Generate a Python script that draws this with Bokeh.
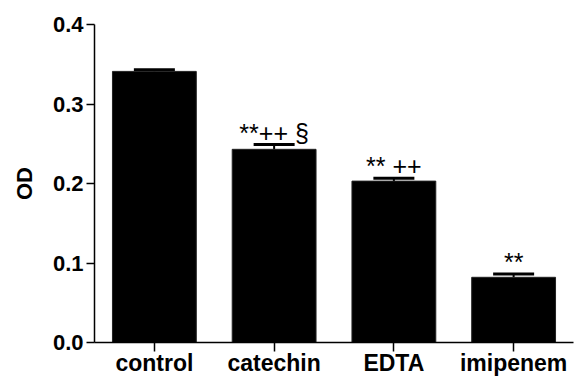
from bokeh.plotting import figure
from bokeh.models import (ColumnDataSource, Range1d, FixedTicker, Whisker, TeeHead,
                          NumeralTickFormatter, FactorRange)
from bokeh.core.properties import value
from bokeh.embed import file_html
from bokeh.resources import INLINE

# ---- data ----
categories = ["control", "catechin", "EDTA", "imipenem"]
od_mean = [0.341, 0.243, 0.203, 0.082]
od_sem = [0.002, 0.006, 0.0035, 0.0043]
sig_marks = ["", "**++ §", "** ++", "**"]
y_ticks = [0.0, 0.1, 0.2, 0.3, 0.4]

FONT = "Liberation Sans"

src = ColumnDataSource(dict(
    cat=categories, top=od_mean,
    upper=[m + s for m, s in zip(od_mean, od_sem)],
    mark=sig_marks,
))

p = figure(width=575, height=378, output_backend="svg", toolbar_location=None,
           x_range=FactorRange(factors=categories, range_padding=0),
           y_range=Range1d(0, 0.4),
           min_border_left=94, min_border_right=2, min_border_top=24,
           min_border_bottom=36)
p.outline_line_color = None
p.xgrid.visible = False
p.ygrid.visible = False

p.vbar(x="cat", top="top", bottom=0, width=0.70, source=src,
       fill_color="black", line_color="#222222", line_width=1)

wh = Whisker(base="cat", upper="upper", lower="top", source=src,
             line_color="black", line_width=2,
             upper_head=TeeHead(size=41, line_color="black", line_width=3),
             lower_head=None)
p.add_layout(wh)

p.text(x="cat", y="upper", text="mark", source=src, y_offset=-12,
       text_align="center", text_baseline="alphabetic",
       text_font=value(FONT), text_font_size="25px", text_color="black")

# y axis
ya = p.yaxis[0]
ya.ticker = FixedTicker(ticks=y_ticks)
ya.formatter = NumeralTickFormatter(format="0.0")
ya.axis_label = "OD"
ya.axis_label_text_font = FONT
ya.axis_label_text_font_style = "bold"
ya.axis_label_text_font_size = "22px"
ya.axis_label_text_color = "black"
ya.axis_label_standoff = 13
ya.major_label_text_font = FONT
ya.major_label_text_font_style = "bold"
ya.major_label_text_font_size = "22px"
ya.major_label_text_color = "black"
ya.major_label_standoff = 3
ya.major_tick_out = 8
ya.major_tick_in = 0
ya.minor_tick_out = 0
ya.minor_tick_in = 0
ya.axis_line_width = 1.5
ya.major_tick_line_width = 1.5
ya.axis_line_color = "black"
ya.major_tick_line_color = "black"

# x axis
xa = p.xaxis[0]
xa.major_label_text_font = FONT
xa.major_label_text_font_style = "bold"
xa.major_label_text_font_size = "23px"
xa.major_label_text_color = "black"
xa.major_label_standoff = -2
xa.major_tick_out = 9
xa.major_tick_in = 0
xa.axis_line_width = 1.5
xa.major_tick_line_width = 1.5
xa.axis_line_color = "black"
xa.major_tick_line_color = "black"

open("out.html", "w").write(file_html(p, INLINE))
